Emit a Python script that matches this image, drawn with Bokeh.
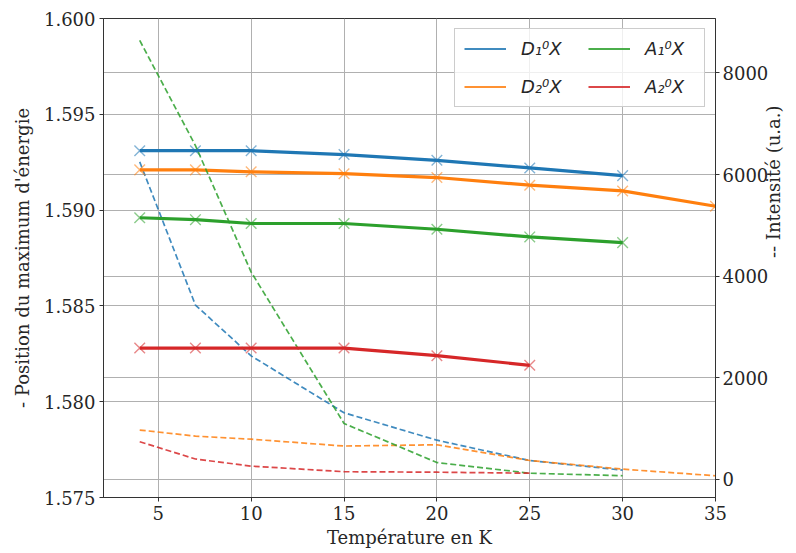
import math
from bokeh.plotting import figure
from bokeh.models import (Range1d, LinearAxis, FixedTicker, NumeralTickFormatter,
                          Grid, Legend, LegendItem)
from bokeh.embed import file_html
from bokeh.resources import INLINE

# ---- data ----
T_D1 = [4, 7, 10, 15, 20, 25, 30]
E_D1 = [1.5931, 1.5931, 1.5931, 1.5929, 1.5926, 1.5922, 1.5918]
I_D1 = [6250, 3430, 2430, 1310, 770, 370, 180]

T_D2 = [4, 7, 10, 15, 20, 25, 30, 35]
E_D2 = [1.5921, 1.5921, 1.5920, 1.5919, 1.5917, 1.5913, 1.5910, 1.5902]
I_D2 = [970, 850, 790, 655, 680, 370, 200, 70]

T_A1 = [4, 7, 10, 15, 20, 25, 30]
E_A1 = [1.5896, 1.5895, 1.5893, 1.5893, 1.5890, 1.5886, 1.5883]
I_A1 = [8640, 6570, 4080, 1100, 330, 120, 70]

T_A2 = [4, 7, 10, 15, 20, 25]
E_A2 = [1.5828, 1.5828, 1.5828, 1.5828, 1.5824, 1.5819]
I_A2 = [740, 400, 260, 150, 140, 120]

labels = ["D\u2081\u2070X", "D\u2082\u2070X", "A\u2081\u2070X", "A\u2082\u2070X"]
colors = ["#1f77b4", "#ff7f0e", "#2ca02c", "#d62728"]

x_ticks = [5, 10, 15, 20, 25, 30, 35]
yl_ticks = [1.575, 1.580, 1.585, 1.590, 1.595, 1.600]
yr_ticks = [0, 2000, 4000, 6000, 8000]

SERIF = "DejaVu Serif"
TXT = "#262626"

p = figure(width=797, height=553, output_backend="svg", toolbar_location=None,
           x_range=Range1d(2.05, 35), y_range=Range1d(1.575, 1.600),
           min_border_left=103, min_border_right=80, min_border_top=18,
           min_border_bottom=56)
p.extra_y_ranges = {"I": Range1d(-358, 9072)}
p.outline_line_color = "#333333"
p.outline_line_width = 1
p.background_fill_color = "white"

right = LinearAxis(y_range_name="I")
p.add_layout(right, "right")

p.xaxis.ticker = FixedTicker(ticks=x_ticks)
p.yaxis[0].ticker = FixedTicker(ticks=yl_ticks)
p.yaxis[0].formatter = NumeralTickFormatter(format="0.000")
right.ticker = FixedTicker(ticks=yr_ticks)

p.xaxis.axis_label = "Température en K"
p.yaxis[0].axis_label = "- Position du maximum d'énergie"
right.axis_label = "-- Intensité (u.a.)"

for ax in [p.xaxis[0], p.yaxis[0], right]:
    ax.major_label_text_font = SERIF
    ax.major_label_text_font_size = "18px"
    ax.major_label_text_color = TXT
    ax.axis_label_text_font = SERIF
    ax.axis_label_text_font_size = "18px"
    ax.axis_label_text_font_style = "normal"
    ax.axis_label_text_color = TXT
    ax.minor_tick_line_color = None
    ax.major_tick_in = 0
    ax.major_tick_out = 4
    ax.major_tick_line_color = "#333333"
    ax.axis_line_color = "#333333"
    ax.major_label_standoff = 4
    ax.axis_label_standoff = 4
p.yaxis[0].axis_label_standoff = 8
right.major_label_standoff = 3
right.axis_label_standoff = 2
right.axis_label_orientation = math.pi / 2

p.xgrid.grid_line_color = "#b0b0b0"
p.ygrid.grid_line_color = "#b0b0b0"
p.xgrid.grid_line_width = 1
p.ygrid.grid_line_width = 1
rgrid = Grid(dimension=1, ticker=right.ticker, y_range_name="I",
             grid_line_color="#b0b0b0", grid_line_width=1)
p.add_layout(rgrid)

series = [(T_D1, E_D1, I_D1), (T_D2, E_D2, I_D2), (T_A1, E_A1, I_A1), (T_A2, E_A2, I_A2)]
items = []
for (t, e, inten), c, lab in zip(series, colors, labels):
    p.line(t, inten, y_range_name="I", line_color=c, line_width=1.7,
           line_dash="6 3", line_alpha=0.85)
    p.line(t, e, line_color=c, line_width=3.2)
    p.scatter(t, e, marker="x", size=15, line_color=c, line_width=1.4, line_alpha=0.55)
    dummy = p.line(x=[-100, -99], y=[1.0, 1.0], line_color=c, line_width=2,
                   line_alpha=0.85)
    items.append(LegendItem(label=lab, renderers=[dummy]))

legend = Legend(items=items, location="top_right", ncols=2,
                label_text_font="DejaVu Sans", label_text_font_style="italic",
                label_text_font_size="18px", label_text_color=TXT,
                glyph_width=42, glyph_height=21, label_height=21, label_width=50,
                label_standoff=15, spacing=17, padding=9, margin=10,
                border_line_color="#cccccc", border_line_alpha=1.0,
                background_fill_alpha=0.8)
p.add_layout(legend)

open("out.html", "w").write(file_html(p, INLINE))
